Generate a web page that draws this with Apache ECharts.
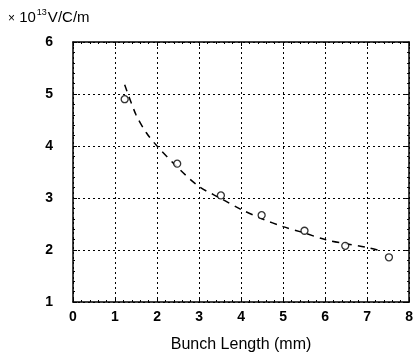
<!DOCTYPE html>
<html>
<head>
<meta charset="utf-8">
<script src="https://cdn.jsdelivr.net/npm/echarts@6/dist/echarts.min.js"></script>
<style>
  html, body { margin: 0; padding: 0; background: #fff; }
  #chart { width: 416px; height: 358px; }
</style>
</head>
<body>
<div id="chart"></div>
<script>
// measured points (open circles)
const pointX = [1.23, 2.48, 3.52, 4.49, 5.51, 6.48, 7.52]
const pointY = [4.90, 3.66, 3.05, 2.67, 2.37, 2.08, 1.86]

// dashed fit curve
const curveX = [1.23, 1.5, 1.75, 2.0, 2.5, 3.0, 3.5, 4.0, 4.5, 5.0, 5.5, 6.0, 6.5, 7.0, 7.25]
const curveY = [5.18, 4.60, 4.25, 4.00, 3.58, 3.22, 3.00, 2.78, 2.60, 2.45, 2.33, 2.20, 2.12, 2.05, 2.00]

const xTicks = [0, 1, 2, 3, 4, 5, 6, 7, 8]
const yTicks = [1, 2, 3, 4, 5, 6]

const font = '"Liberation Sans", Arial, sans-serif'

var myChart = echarts.init(document.getElementById('chart'))

let points = pointX.map((x, i) => [x, pointY[i]])
let curve = curveX.map((x, i) => [x, curveY[i]])

let frameAxis = (extra) => Object.assign({
    type: 'value',
    interval: 1,
    axisLine: { show: true, onZero: false, lineStyle: { color: '#000', width: 1.5 } },
    axisTick: { show: true, inside: true, length: 4, lineStyle: { color: '#000', width: 1 } },
    minorTick: { show: true, splitNumber: 5, length: 2, lineStyle: { color: '#000', width: 1 } },
    splitLine: { show: false },
    axisLabel: { show: false },
}, extra)

option = {
    animation: false,
    backgroundColor: '#fff',
    grid: { left: 73, right: 5, top: 42, bottom: 53, containLabel: false },
    graphic: [{
        type: 'text',
        left: 8,
        top: 8,
        style: {
            text: '{x|×}{a| 10}{s|13}{a|V/C/m}',
            rich: {
                x: { fontSize: 12, fontFamily: font, fill: '#000', verticalAlign: 'bottom', lineHeight: 18 },
                a: { fontSize: 15, fontFamily: font, fill: '#000', verticalAlign: 'bottom', lineHeight: 18 },
                s: { fontSize: 9, fontFamily: font, fill: '#000', verticalAlign: 'bottom', lineHeight: 18, padding: [0, 1, 8, 1] },
            }
        }
    }],
    xAxis: [
        frameAxis({
            position: 'bottom',
            min: xTicks[0],
            max: xTicks[xTicks.length - 1],
            name: 'Bunch Length (mm)',
            nameLocation: 'middle',
            nameGap: 35,
            nameTextStyle: { color: '#000', fontSize: 16, fontFamily: font },
            axisLabel: { show: true, color: '#000', fontSize: 14, fontWeight: 'bold', fontFamily: font, margin: 8 },
            splitLine: { show: true, lineStyle: { color: '#000', type: [2, 3], width: 1 } },
        }),
        frameAxis({ position: 'top', min: xTicks[0], max: xTicks[xTicks.length - 1] }),
    ],
    yAxis: [
        frameAxis({
            position: 'left',
            min: yTicks[0],
            max: yTicks[yTicks.length - 1],
            axisLabel: { show: true, color: '#000', fontSize: 14, fontWeight: 'bold', fontFamily: font, margin: 20 },
            splitLine: { show: true, lineStyle: { color: '#000', type: [2, 3], width: 1 } },
        }),
        frameAxis({ position: 'right', min: yTicks[0], max: yTicks[yTicks.length - 1] }),
    ],
    series: [{
        type: 'line',
        data: curve,
        smooth: 0.3,
        showSymbol: false,
        lineStyle: { color: '#000', width: 1.5, type: [7, 6] },
        z: 3,
    }, {
        type: 'scatter',
        data: points,
        symbol: 'circle',
        symbolSize: 7,
        itemStyle: { color: '#fff', borderColor: '#000', borderWidth: 1.3 },
        z: 4,
    }]
}
myChart.setOption(option)
</script>
</body>
</html>
